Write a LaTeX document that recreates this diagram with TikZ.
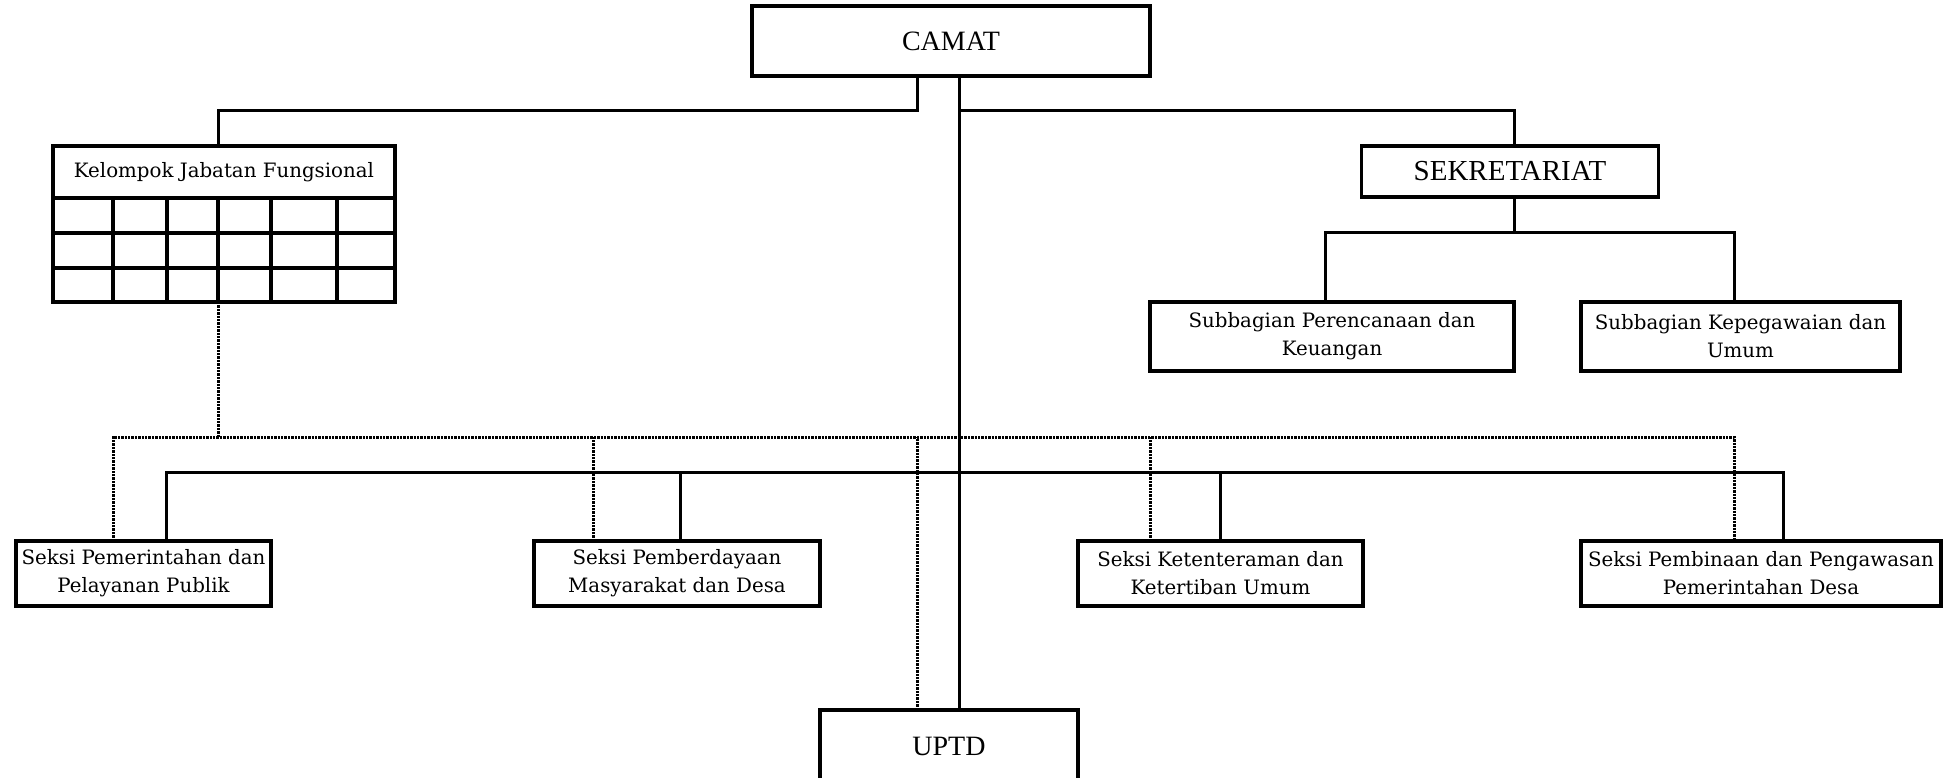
\documentclass[tikz,border=0pt]{standalone}
\usepackage{fontspec}
\setmainfont{Liberation Serif}
\newfontfamily\smallserif{DejaVu Serif}
\usepackage{tikz}

\tikzset{
  bigbox/.style={draw, line width=3.4pt, rectangle, inner sep=0pt, outer sep=0pt, font=\fontsize{28}{32}\selectfont},
  smallbox/.style={draw, line width=3.4pt, rectangle, inner sep=0pt, outer sep=0pt, align=center, font=\smallserif\fontsize{19.8}{28}\selectfont},
  link/.style={line width=3pt},
  dotlink/.style={line width=3pt, dash pattern=on 2.4pt off 1pt}
}

\begin{document}
\begin{tikzpicture}[x=1pt, y=-1pt]
        \useasboundingbox (0,0) rectangle (1946,777);

        % Head and staff
        \node[bigbox, minimum width=398, minimum height=70] (camat) at (951,41) {CAMAT};
        \node[bigbox, minimum width=297, minimum height=51, font=\fontsize{29}{32}\selectfont] (sekr) at (1510,171.5) {SEKRETARIAT};
        \node[smallbox, minimum width=364, minimum height=69] (subrenc) at (1332,336.5) {Subbagian Perencanaan dan\\Keuangan};
        \node[smallbox, minimum width=319, minimum height=69] (subpeg) at (1740.5,336.5) {Subbagian Kepegawaian dan\\Umum};

        % Functional group with its grid
        \node[smallbox, minimum width=342, minimum height=52] (kjf) at (224,172) {Kelompok Jabatan Fungsional};
        \draw[line width=3.4pt] (kjf.south west) rectangle ++(342,104);
        \foreach \y in {35,70}
            \draw[line width=3.4pt] (kjf.south west) ++(0,\y) -- ++(342,0);
        \foreach \x in {60,114,165,218,284}
            \draw[line width=3.4pt] (kjf.south west) ++(\x,0) -- ++(0,104);
        \coordinate (kjfbot) at ([xshift=-6pt, yshift=-104pt]kjf.south);

        % Sections
        \node[smallbox, minimum width=255, minimum height=65] (seksipem) at (143.5,573.5) {Seksi Pemerintahan dan\\Pelayanan Publik};
        \node[smallbox, minimum width=286, minimum height=65] (seksimas) at (677,573.5) {Seksi Pemberdayaan\\Masyarakat dan Desa};
        \node[smallbox, minimum width=285, minimum height=65] (seksitib) at (1220.5,573.5) {Seksi Ketenteraman dan\\Ketertiban Umum};
        \node[smallbox, minimum width=360, minimum height=65] (seksidesa) at (1761,573.5) {Seksi Pembinaan dan Pengawasan\\Pemerintahan Desa};
        \node[bigbox, minimum width=258, minimum height=72] (uptd) at (949,746) {UPTD};

        % Command lines
        \coordinate (trunk) at ([xshift=8pt]camat.south);
        \draw[link] (trunk) -- (trunk |- uptd.north);
        \draw[link] ([xshift=-34pt]camat.south) -- ++(0,34) -| ([xshift=-6pt]kjf.north);
        \draw[link] (trunk) ++(0,34) -| ([xshift=4pt]sekr.north);
        \draw[link] ([xshift=4pt]sekr.south) -- ++(0,35) coordinate (subbus);
        \draw[link] ([xshift=-7pt]subrenc.north) |- (subbus) -| ([xshift=-6pt]subpeg.north);
        \draw[link] ([xshift=22.5pt]seksipem.north) -- ++(0,-69) coordinate (lowbus)
            -| ([xshift=22pt]seksidesa.north);
        \draw[link] ([xshift=3pt]seksimas.north) -- ++(0,-69);
        \draw[link] (seksitib.north) -- ++(0,-69);

        % Coordination lines
        \draw[dotlink] (kjfbot) -- ++(0,135) coordinate (dotbus);
        \draw[dotlink] ([xshift=-30.5pt]seksipem.north) |- ([xshift=-27pt]seksidesa.north |- dotbus)
            -- ([xshift=-27pt]seksidesa.north);
        \draw[dotlink] ([xshift=-84pt]seksimas.north) -- ++(0,-104);
        \draw[dotlink] ([xshift=-70.5pt]seksitib.north) -- ++(0,-104);
        \draw[dotlink] ([xshift=-32pt]uptd.north) -- ++(0,-273);
\end{tikzpicture}
\end{document}
